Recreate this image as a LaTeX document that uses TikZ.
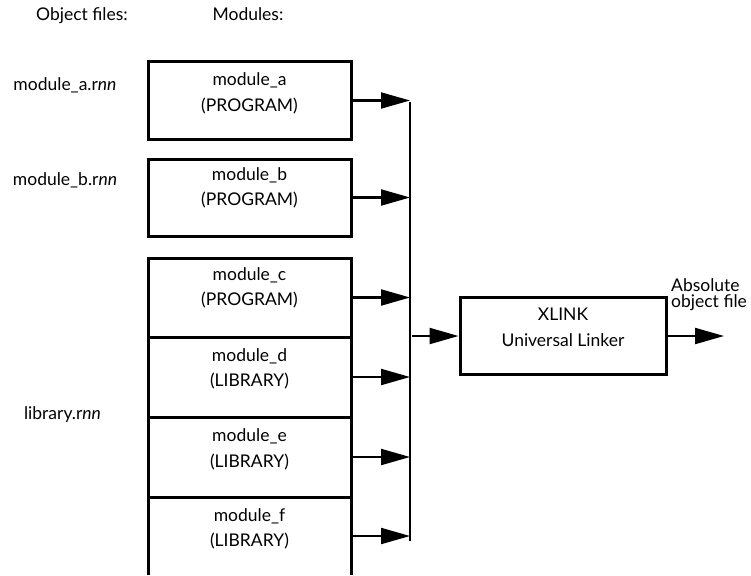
\documentclass[tikz,border=0pt]{standalone}
\usepackage{fontspec}
\setmainfont{Lato}
\usetikzlibrary{arrows.meta,calc}
\tikzset{
  txt/.style={inner sep=0pt, anchor=base, font=\fontsize{17.5}{21}\selectfont},
  modbox/.style={draw, line width=3pt, minimum width=203pt, inner sep=0pt},
  boxline/.style={line width=3pt},
  arr/.style={line width=2.1pt, -{Triangle[length=29pt,width=16pt]}},
  busline/.style={line width=2.3pt},
}
\begin{document}
\begin{tikzpicture}[x=1pt,y=-1pt]
\useasboundingbox (0,0) rectangle (751,575);
% headers
\node[txt] (hobj) at (82,21) {Object files:};
\node[txt] (hmod) at (248,21) {Modules:};
% object file labels
\node[txt] (fa) at (65,91) {module\_a.r\textit{nn}};
\node[txt] (fb) at (65,185) {module\_b.r\textit{nn}};
\node[txt] (fl) at (62.5,419) {library.r\textit{nn}};
% module boxes
\node[modbox, minimum height=77pt] (ma) at (249.5,100.5) {};
\node[modbox, minimum height=77pt] (mb) at (249.5,197.5) {};
\node[modbox, minimum height=79pt] (mc) at (249.5,297.5) {};
\node[modbox, minimum height=80pt] (md) at (249.5,377) {};
\node[modbox, minimum height=80pt] (me) at (249.5,457) {};
\node[minimum width=203pt, minimum height=78pt, inner sep=0pt, outer sep=0pt] (mf) at (249.5,536) {};
\draw[boxline] (mf.south west) -- (mf.north west) -- (mf.north east) -- (mf.south east);
% module texts
\node[txt] (ta1) at (249.5,85) {module\_a};
\node[txt] (ta2) at (249.5,111) {(PROGRAM)};
\node[txt] (tb1) at (249.5,180) {module\_b};
\node[txt] (tb2) at (249.5,205) {(PROGRAM)};
\node[txt] (tc1) at (249.5,280) {module\_c};
\node[txt] (tc2) at (249.5,305) {(PROGRAM)};
\node[txt] (td1) at (249.5,361) {module\_d};
\node[txt] (td2) at (249.5,386) {(LIBRARY)};
\node[txt] (te1) at (249.5,441) {module\_e};
\node[txt] (te2) at (249.5,467) {(LIBRARY)};
\node[txt] (tf1) at (249.5,521) {module\_f};
\node[txt] (tf2) at (249.5,546) {(LIBRARY)};
% bus
\coordinate (bt) at (410,102);
\coordinate (bb) at (410,541);
\draw[busline] (bt) -- (bb);
\foreach \m in {ma,mb,mc,md,me} {
  \draw[arr] (\m.east) -- (\m.east -| bt);
}
\draw[arr] ($(mf.east)+(1.5,0)$) -- (mf.east -| bt);
% linker
\node[modbox, minimum width=206pt, minimum height=77pt] (xl) at (563,336) {};
\node[txt] (xl1) at (563,320) {XLINK};
\node[txt] (xl2) at (563,346) {Universal Linker};
\draw[arr] ($(xl.west -| bt)+(2,0)$) -- (xl.west);
\coordinate (out) at (724,336);
\draw[arr] (xl.east) -- (out);
\node[txt, anchor=base west] (abs1) at (671,291) {Absolute};
\node[txt, anchor=base west] (abs2) at (671,307) {object file};
\end{tikzpicture}
\end{document}
